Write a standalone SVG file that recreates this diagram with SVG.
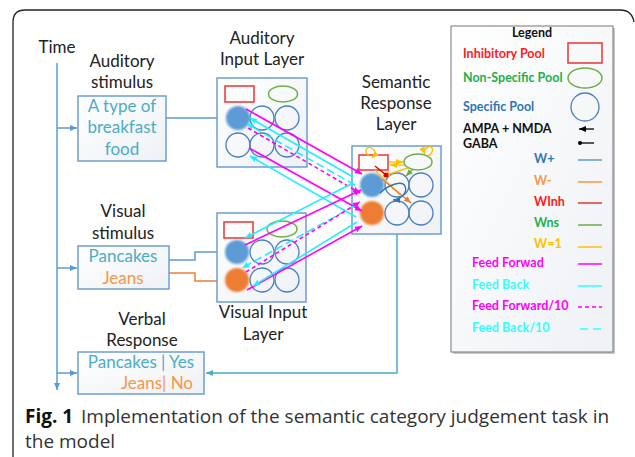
<svg xmlns="http://www.w3.org/2000/svg" width="635" height="457" viewBox="0 0 635 457">
<style>
.lbl{font-family:Lato,"Liberation Sans",sans-serif;font-size:17px;fill:#222;text-anchor:middle}
.box{fill:url(#bg);stroke:#6f9fcf;stroke-width:1.5}
.txt{font-family:Lato,"Liberation Sans",sans-serif;font-size:17px;text-anchor:middle}
.teal{fill:#4bacc6}.org{fill:#f79646}
.pool{fill:none;stroke:#4a7fbf;stroke-width:1.3}
.inh{fill:none;stroke:#ee3333;stroke-width:1.5}
.ns{fill:none;stroke:#70ad47;stroke-width:1.5}
.lg{font-family:Lato,"Liberation Sans",sans-serif;font-size:12.5px;font-weight:bold}
.ff{stroke:#ff00ff;stroke-width:1.6;fill:none;marker-end:url(#am)}
.fb{stroke:#22eeff;stroke-width:1.6;fill:none;marker-end:url(#ac)}
.ffd{stroke:#ff00ff;stroke-width:1.6;fill:none;stroke-dasharray:4 3;marker-end:url(#am)}
.fbd{stroke:#22eeff;stroke-width:1.6;fill:none;stroke-dasharray:8 4;marker-end:url(#ac)}
.bl{stroke:#5b9bd5;stroke-width:1.5;fill:none}
</style>
<defs>
<linearGradient id="bg" x1="0" y1="0" x2="1" y2="1"><stop offset="0" stop-color="#ffffff"/><stop offset="1" stop-color="#eef1f5"/></linearGradient>
<filter id="blur" x="-20%" y="-20%" width="140%" height="140%"><feGaussianBlur stdDeviation="0.8"/></filter>
<marker id="ab" markerWidth="8" markerHeight="8" refX="7" refY="4" orient="auto" markerUnits="userSpaceOnUse"><path d="M0,1 L7,4 L0,7z" fill="#5b9bd5"/></marker>
<marker id="at" markerWidth="8" markerHeight="8" refX="7" refY="4" orient="auto" markerUnits="userSpaceOnUse"><path d="M0,1 L7,4 L0,7z" fill="#4bacc6"/></marker>
<marker id="ao" markerWidth="8" markerHeight="8" refX="7" refY="4" orient="auto" markerUnits="userSpaceOnUse"><path d="M0,1 L7,4 L0,7z" fill="#ed7d31"/></marker>
<marker id="am" markerWidth="8" markerHeight="8" refX="7" refY="4" orient="auto" markerUnits="userSpaceOnUse"><path d="M0,1 L7,4 L0,7z" fill="#ff00ff"/></marker>
<marker id="ac" markerWidth="8" markerHeight="8" refX="7" refY="4" orient="auto" markerUnits="userSpaceOnUse"><path d="M0,1 L7,4 L0,7z" fill="#22eeff"/></marker>
<marker id="ay" markerWidth="8" markerHeight="8" refX="7" refY="4" orient="auto" markerUnits="userSpaceOnUse"><path d="M0,1 L7,4 L0,7z" fill="#ffc000"/></marker>
<marker id="ag" markerWidth="8" markerHeight="8" refX="7" refY="4" orient="auto" markerUnits="userSpaceOnUse"><path d="M0,1 L7,4 L0,7z" fill="#70ad47"/></marker>
<marker id="ad" markerWidth="8" markerHeight="8" refX="7" refY="4" orient="auto" markerUnits="userSpaceOnUse"><path d="M0,1 L7,4 L0,7z" fill="#2e75b6"/></marker>
<marker id="ar" markerWidth="6" markerHeight="6" refX="3" refY="3" markerUnits="userSpaceOnUse"><circle cx="3" cy="3" r="2.5" fill="#e00000"/></marker>
<marker id="ak" markerWidth="8" markerHeight="8" refX="1" refY="4" orient="auto" markerUnits="userSpaceOnUse"><path d="M8,1 L1,4 L8,7z" fill="#000"/></marker>
<marker id="dk" markerWidth="6" markerHeight="6" refX="3" refY="3" markerUnits="userSpaceOnUse"><circle cx="3" cy="3" r="2" fill="#000"/></marker>
</defs>

<!-- outer frame -->
<path d="M13,457 L13,22 Q13,10 25,10 L620,10 Q632,10 634,22" fill="none" stroke="#222" stroke-width="1.3"/>

<!-- connectors -->
<g id="connectors">
<line x1="57" y1="63" x2="57" y2="390" class="bl" marker-end="url(#ab)"/>
<line x1="57" y1="128" x2="77" y2="128" class="bl" marker-end="url(#ab)"/>
<line x1="57" y1="268" x2="77" y2="268" class="bl" marker-end="url(#ab)"/>
<line x1="57" y1="373" x2="77" y2="373" class="bl" marker-end="url(#ab)"/>
<polyline points="166,118 225,118" class="bl" marker-end="url(#ab)"/>
<polyline points="169,260 195,260 195,252 224,252" class="bl" marker-end="url(#ab)"/>
<polyline points="169,273 195,273 195,281 224,281" fill="none" stroke="#ed7d31" stroke-width="1.5" marker-end="url(#ao)"/>
<polyline points="397,234 397,373 206,373" fill="none" stroke="#4bacc6" stroke-width="1.5" marker-end="url(#at)"/>
</g>

<!-- Time -->
<g id="time"><text x="57" y="53" class="lbl">Time</text></g>

<!-- Auditory stimulus -->
<g id="aud-stim">
<text x="122" y="67" class="lbl">Auditory</text>
<text x="122" y="88" class="lbl">stimulus</text>
<rect x="78" y="96" width="88" height="65" class="box"/>
<text x="122" y="112" class="txt teal">A type of</text>
<text x="122" y="133" class="txt teal">breakfast</text>
<text x="122" y="155" class="txt teal">food</text>
</g>

<!-- Visual stimulus -->
<g id="vis-stim">
<text x="123" y="217" class="lbl">Visual</text>
<text x="123" y="239" class="lbl">stimulus</text>
<rect x="78" y="246" width="91" height="43" class="box"/>
<text x="123" y="262" class="txt teal">Pancakes</text>
<text x="123" y="284" class="txt org">Jeans</text>
</g>

<!-- Verbal response -->
<g id="verbal">
<text x="142" y="325" class="lbl">Verbal</text>
<text x="142" y="346" class="lbl">Response</text>
<rect x="78" y="352" width="126" height="42" class="box"/>
<text x="141" y="368" class="txt teal">Pancakes | Yes</text>
<text x="193" y="389" class="txt org" style="text-anchor:end">Jeans| No</text>
</g>

<!-- Auditory input layer -->
<g id="aud-layer">
<text x="262" y="44" class="lbl">Auditory</text>
<text x="262" y="65" class="lbl">Input Layer</text>
<rect x="217" y="78" width="90" height="89" class="box"/>
<rect x="225" y="86" width="29" height="16" class="inh"/>
<ellipse cx="283" cy="94" rx="14.5" ry="8" class="ns"/>
<circle cx="238" cy="118" r="12" fill="#5b9bd5" filter="url(#blur)"/>
<circle cx="262" cy="118" r="12" class="pool"/>
<circle cx="287" cy="118" r="12" class="pool"/>
<circle cx="238" cy="145" r="12" class="pool"/>
<circle cx="262" cy="145" r="12" class="pool"/>
<circle cx="287" cy="145" r="12" class="pool"/>
</g>

<!-- Visual input layer -->
<g id="vis-layer">
<rect x="217" y="213" width="89" height="89" class="box"/>
<rect x="224" y="222" width="29" height="16" class="inh"/>
<ellipse cx="282" cy="229" rx="15" ry="8" class="ns"/>
<circle cx="237" cy="252" r="12" fill="#5b9bd5" filter="url(#blur)"/>
<circle cx="262" cy="252" r="12" class="pool"/>
<circle cx="287" cy="252" r="12" class="pool"/>
<circle cx="237" cy="280" r="12" fill="#ed7d31" filter="url(#blur)"/>
<circle cx="262" cy="280" r="12" class="pool"/>
<circle cx="287" cy="280" r="12" class="pool"/>
<text x="263" y="318" class="lbl">Visual Input</text>
<text x="263" y="340" class="lbl">Layer</text>
</g>

<!-- Semantic response layer -->
<g id="sem-layer">
<text x="396" y="88" class="lbl">Semantic</text>
<text x="396" y="109" class="lbl">Response</text>
<text x="396" y="130" class="lbl">Layer</text>
<rect x="352" y="146" width="89" height="88" class="box"/>
<rect x="359" y="155" width="29" height="15" class="inh"/>
<ellipse cx="418" cy="162" rx="14" ry="8" class="ns"/>
<circle cx="372" cy="185" r="12" fill="#5b9bd5" filter="url(#blur)"/>
<circle cx="397" cy="185" r="12" class="pool"/>
<circle cx="421" cy="185" r="12" class="pool"/>
<circle cx="372" cy="213" r="12" fill="#ed7d31" filter="url(#blur)"/>
<circle cx="397" cy="213" r="12" class="pool"/>
<circle cx="421" cy="213" r="12" class="pool"/>
<!-- internal weights -->
<path d="M369,156 C362,150 368,145 373,149 C377,152 374,156 372,158" fill="none" stroke="#ffc000" stroke-width="1.4" marker-end="url(#ay)"/>
<line x1="389" y1="162" x2="403" y2="162" stroke="#ffc000" stroke-width="1.4" marker-end="url(#ay)"/>
<line x1="404" y1="165" x2="390" y2="165" stroke="#ffc000" stroke-width="1.4" marker-end="url(#ay)"/>
<path d="M428,156 C435,152 433,145 428,147 C424,149 424,152 425,154" fill="none" stroke="#ffc000" stroke-width="1.4" marker-end="url(#ay)"/>
<line x1="408" y1="168" x2="383" y2="176" stroke="#ffc000" stroke-width="1.4" marker-end="url(#ay)"/>
<line x1="375" y1="170" x2="400" y2="195" stroke="#ffc000" stroke-width="1.4"/>
<line x1="375" y1="166" x2="386" y2="175" stroke="#e00000" stroke-width="1.4" marker-end="url(#ar)"/>
<line x1="413" y1="169" x2="406" y2="176" stroke="#70ad47" stroke-width="1.4" marker-end="url(#ag)"/>
<line x1="382" y1="179" x2="411" y2="203" stroke="#ed7d31" stroke-width="1.4" marker-end="url(#ao)"/>
<path d="M380,193 C388,185 402,180 405,186 C408,193 400,200 393,200" fill="none" stroke="#2e75b6" stroke-width="1.4" marker-end="url(#ad)"/>
</g>

<!-- feedforward / feedback -->
<g id="ff-fb">
<line x1="246" y1="109" x2="362" y2="174" class="ff"/>
<line x1="353" y1="177" x2="250" y2="118" class="fb"/>
<line x1="355" y1="185" x2="247" y2="124" class="fbd"/>
<line x1="248" y1="128" x2="360" y2="193" class="ffd"/>
<line x1="249" y1="148" x2="362" y2="211" class="ff"/>
<line x1="356" y1="217" x2="250" y2="156" class="fb"/>
<line x1="245" y1="245" x2="361" y2="190" class="ff"/>
<line x1="353" y1="183" x2="245" y2="238" class="fb"/>
<line x1="356" y1="205" x2="242" y2="268" class="fbd"/>
<line x1="246" y1="272" x2="360" y2="202" class="ffd"/>
<line x1="247" y1="290" x2="362" y2="226" class="ff"/>
<line x1="357" y1="222" x2="253" y2="286" class="fb"/>
</g>

<!-- Legend -->
<g id="legend">
<rect x="453" y="28" width="162" height="326" fill="#c8c8c8"/>
<rect x="451" y="26" width="162" height="326" fill="url(#bg)" stroke="#777" stroke-width="1"/>
<text x="532" y="37" class="lg" style="text-anchor:middle" fill="#111">Legend</text>
<text x="463" y="58" class="lg" fill="#ff1a1a">Inhibitory Pool</text>
<rect x="568" y="43" width="34" height="20" class="inh"/>
<text x="463" y="82" class="lg" fill="#22b04b">Non-Specific Pool</text>
<ellipse cx="585" cy="78" rx="17" ry="10" class="ns"/>
<text x="463" y="111" class="lg" fill="#2e75b6">Specific Pool</text>
<circle cx="585" cy="107" r="14" class="pool"/>
<text x="463" y="133" class="lg" fill="#111">AMPA + NMDA</text>
<text x="463" y="147.5" class="lg" fill="#111">GABA</text>
<line x1="579" y1="129" x2="594" y2="129" stroke="#000" stroke-width="1.3" marker-start="url(#ak)"/>
<line x1="580" y1="143" x2="594" y2="143" stroke="#000" stroke-width="1.3" marker-start="url(#dk)"/>
<text x="534" y="163" class="lg" fill="#2e75b6">W+</text>
<line x1="578" y1="160" x2="602" y2="160" stroke="#5b9bd5" stroke-width="1.5"/>
<text x="534" y="185" class="lg" fill="#f79646">W-</text>
<line x1="578" y1="182" x2="602" y2="182" stroke="#f79646" stroke-width="1.5"/>
<text x="534" y="206" class="lg" fill="#ff1a1a">WInh</text>
<line x1="578" y1="203" x2="602" y2="203" stroke="#ee3333" stroke-width="1.5"/>
<text x="534" y="227" class="lg" fill="#22b04b">Wns</text>
<line x1="578" y1="225" x2="602" y2="225" stroke="#70ad47" stroke-width="1.5"/>
<text x="534" y="248" class="lg" fill="#ffc000">W=1</text>
<line x1="578" y1="247" x2="602" y2="247" stroke="#ffc000" stroke-width="1.5"/>
<text x="472" y="267" class="lg" fill="#ff00ff">Feed Forwad</text>
<line x1="578" y1="264" x2="602" y2="264" stroke="#ff00ff" stroke-width="1.5"/>
<text x="472" y="289" class="lg" fill="#33ffff">Feed Back</text>
<line x1="578" y1="286" x2="602" y2="286" stroke="#33ffff" stroke-width="1.5"/>
<text x="472" y="310" class="lg" fill="#ff00ff">Feed Forward/10</text>
<line x1="578" y1="307" x2="602" y2="307" stroke="#ff00ff" stroke-width="1.5" stroke-dasharray="4 3"/>
<text x="472" y="332" class="lg" fill="#33ffff">Feed Back/10</text>
<line x1="580" y1="329" x2="602" y2="329" stroke="#33ffff" stroke-width="1.5" stroke-dasharray="8 5"/>
</g>

<!-- caption -->
<g id="caption" font-family="'Open Sans','Liberation Sans',sans-serif" font-size="19px" fill="#333">
<text x="25" y="423"><tspan font-weight="bold" fill="#111">Fig. 1</tspan><tspan x="81">Implementation of the semantic category judgement task in</tspan></text>
<text x="25" y="448">the model</text>
</g>
</svg>
